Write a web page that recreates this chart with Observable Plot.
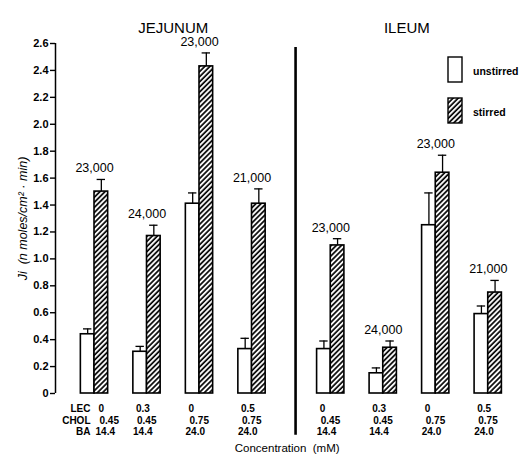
<!DOCTYPE html>
<html><head><meta charset="utf-8">
<script src="https://cdn.jsdelivr.net/npm/d3@7"></script>
<script src="https://cdn.jsdelivr.net/npm/@observablehq/plot@0.6"></script>
<style>
body{margin:0;background:#fff;}
#chart{position:relative;width:521px;height:461px;}
#chart svg{font-family:"Liberation Sans",Arial,sans-serif;}
#chart [aria-label="y-axis tick label"] text{font-weight:bold;}
</style></head><body><div id="chart"></div>
<script>
// ---- data ----
const segments = ["JEJUNUM", "ILEUM"];
const groupSegment = ["JEJUNUM","JEJUNUM","JEJUNUM","JEJUNUM","ILEUM","ILEUM","ILEUM","ILEUM"];
const lec  = ["0","0.3","0","0.5","0","0.3","0","0.5"];
const chol = ["0.45","0.45","0.75","0.75","0.45","0.45","0.75","0.75"];
const ba   = ["14.4","14.4","24.0","24.0","14.4","14.4","24.0","24.0"];
const unstirred   = [0.44, 0.31, 1.41, 0.33, 0.33, 0.15, 1.25, 0.59];
const unstirredSE = [0.04, 0.04, 0.08, 0.08, 0.06, 0.04, 0.24, 0.06];
const stirred     = [1.50, 1.17, 2.43, 1.41, 1.10, 0.34, 1.64, 0.75];
const stirredSE   = [0.09, 0.08, 0.10, 0.11, 0.05, 0.05, 0.13, 0.09];
const molWeight   = ["23,000","24,000","23,000","21,000","23,000","24,000","23,000","21,000"];
const yTicks = [0,0.2,0.4,0.6,0.8,1.0,1.2,1.4,1.6,1.8,2.0,2.2,2.4,2.6];
const rowLabels = ["LEC","CHOL","BA"];
const legendItems = ["unstirred","stirred"];
const yLabel = "Ji  (n moles/cm\u00B2 \u00B7 min)";
const xLabel = "Concentration  (mM)";

// ---- layout helpers ----
const pos = groupSegment.map((s, i) => i + 1 + (s === "ILEUM" ? 0.5 : 0));
const half = 0.26;           // bar width in group units
const cap = 0.08;            // half width of error cap
const xDomain = [0.257, 8.924];
const pxPerUnit = 455 / (xDomain[1] - xDomain[0]);
const divider = 4.83;

const groups = pos.map((p, i) => ({p, i, seg: groupSegment[i]}));
const bars = [];
groups.forEach(g => {
  bars.push({type: "unstirred", x1: g.p - half, x2: g.p, v: unstirred[g.i], e: unstirred[g.i] + unstirredSE[g.i], c: g.p - half/2});
  bars.push({type: "stirred", x1: g.p, x2: g.p + half, v: stirred[g.i], e: stirred[g.i] + stirredSE[g.i], c: g.p + half/2});
});
const labels = groups.map(g => ({p: g.p, y: stirred[g.i] + stirredSE[g.i], t: molWeight[g.i]}));
const segCenter = segments.map(s => ({s, p: d3.mean(groups.filter(g => g.seg === s), g => g.p) + (s === "JEJUNUM" ? 0 : -0.05)}));

const rowDy = [15, 27.5, 38];
const rowDx = [-11, -10, -14];
const rowVals = [lec, chol, ba];
const concMarks = rowVals.map((vals, r) => Plot.text(groups, {
  x: g => g.p + (rowDx[r] + (g.i === 0 ? 15 : 0)) / pxPerUnit,
  text: g => vals[g.i], frameAnchor: "bottom", dy: rowDy[r],
  textAnchor: "start", lineAnchor: "middle", fontSize: 10, fontWeight: "bold"
}));
const rowLabelMarks = rowLabels.map((t, r) => Plot.text([t], {
  x: () => pos[0], text: d => d, frameAnchor: "bottom", dy: rowDy[r], dx: -4,
  textAnchor: "end", lineAnchor: "middle", fontSize: 10, fontWeight: "bold"
}));

const font = {fontFamily: '"Liberation Sans", Arial, sans-serif'};

const plot = Plot.plot({
  width: 521, height: 461,
  marginTop: 43, marginBottom: 68, marginLeft: 55, marginRight: 11,
  x: {type: "linear", domain: xDomain, axis: null},
  y: {domain: [0, 2.6], axis: null},
  style: {background: "white", color: "black", fontSize: "11px", ...font},
  marks: [
    Plot.axisY({ticks: yTicks, tickFormat: d => d === 0 ? "0" : d.toFixed(1), tickSize: 5, tickPadding: 2, label: null, fontSize: 11, strokeWidth: 1.4}),
    Plot.ruleX([xDomain[0]], {y1: 0, y2: 2.6, strokeWidth: 1.5}),
    Plot.ruleX([divider], {y1: 2.57, y2: -0.31, strokeWidth: 2.6}),
    // error bars
    Plot.ruleX(bars, {x: "c", y1: "v", y2: "e", strokeWidth: 1.3}),
    Plot.ruleY(bars, {y: "e", x1: d => d.c - cap, x2: d => d.c + cap, strokeWidth: 1.3}),
    // bars
    Plot.rectY(bars, {x1: "x1", x2: "x2", y1: 0, y2: "v", fill: d => d.type === "stirred" ? "url(#hatch)" : "white", stroke: "black", strokeWidth: 1.6}),
    // molecular weight labels
    Plot.text(labels, {x: "p", y: "y", text: "t", dy: -11, fontSize: 12.5}),
    // titles
    Plot.text(segCenter, {x: "p", text: "s", frameAnchor: "top", dy: -21, fontSize: 15}),
    // concentration table
    ...rowLabelMarks,
    ...concMarks,
    // y label
    Plot.text([yLabel], {frameAnchor: "left", dx: -33, rotate: -90, text: d => d, fontSize: 12.5, fontStyle: "italic", textAnchor: "middle", lineAnchor: "middle"}),
    // x label
    Plot.text([xLabel], {x: () => 4.67, frameAnchor: "bottom", dy: 55, text: d => d, fontSize: 11.5, textAnchor: "middle", lineAnchor: "middle"})
  ]
});
document.getElementById("chart").appendChild(plot);

const svg = d3.select(plot);
// hatch pattern
const defs = svg.insert("defs", ":first-child");
const pat = defs.append("pattern").attr("id", "hatch").attr("patternUnits", "userSpaceOnUse")
  .attr("width", 3.6).attr("height", 3.6).attr("patternTransform", "rotate(45)");
pat.append("rect").attr("width", 3.6).attr("height", 3.6).attr("fill", "white");
pat.append("line").attr("x1", 1).attr("y1", 0).attr("x2", 1).attr("y2", 3.6).attr("stroke", "black").attr("stroke-width", 1.7);

// legend
const lg = svg.append("g").attr("text-anchor", "start");
legendItems.forEach((t, i) => {
  const y0 = i === 0 ? 57 : 98;
  lg.append("rect").attr("x", 448).attr("y", y0).attr("width", 14).attr("height", 25)
    .attr("fill", t === "stirred" ? "url(#hatch)" : "white").attr("stroke", "black").attr("stroke-width", 1.4);
  lg.append("text").attr("x", 473).attr("y", y0 + 14).attr("dy", "0.35em")
    .attr("font-size", 10.5).attr("font-weight", "bold").text(t);
});
</script></body></html>
